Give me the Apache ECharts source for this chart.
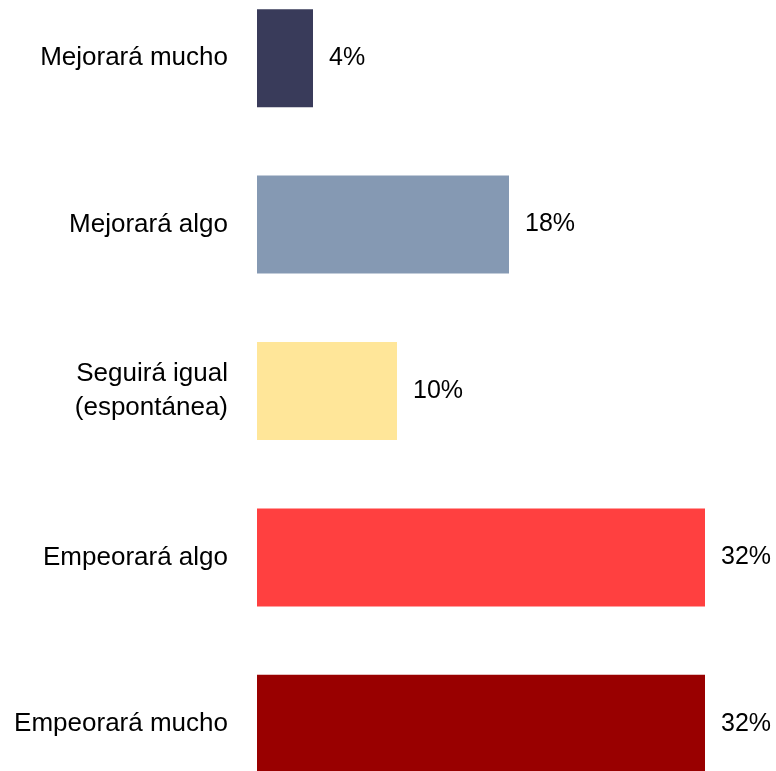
<!DOCTYPE html>
<html>
<head>
<meta charset="utf-8">
<script src="https://cdn.jsdelivr.net/npm/echarts@6/dist/echarts.min.js"></script>
<style>
  html, body { margin: 0; padding: 0; background: #fff; }
  body { width: 776px; height: 771px; overflow: hidden; }
  /* plot is taller than the window: the last bar is cut at the bottom */
  #chart { width: 776px; height: 832px; margin-top: -25px; }
</style>
</head>
<body>
<div id="chart"></div>
<script>
// Data
const categories = ['Mejorará mucho', 'Mejorará algo', 'Seguirá igual\n(espontánea)', 'Empeorará algo', 'Empeorará mucho'];
const values = [4, 18, 10, 32, 32];
const barColors = ['#393b5a', '#8599b3', '#ffe699', '#ff4040', '#990000'];

const fontFamily = '"Liberation Sans", Arial, sans-serif';

const chart = echarts.init(document.getElementById('chart'));

chart.setOption({
    animation: false,
    grid: {
        left: 257,
        right: 15,
        top: 0,
        bottom: 0,
        containLabel: false
    },
    xAxis: {
        type: 'value',
        min: 0,
        max: 36,
        show: false
    },
    yAxis: {
        type: 'category',
        data: categories,
        inverse: true,
        axisLine: { show: false },
        axisTick: { show: false },
        axisLabel: {
            margin: 29,
            color: '#000',
            fontSize: 26,
            fontFamily: fontFamily,
            lineHeight: 34,
            align: 'right'
        }
    },
    series: [{
        type: 'bar',
        barWidth: 98,
        data: values.map((v, i) => ({
            value: v,
            itemStyle: { color: barColors[i] }
        })),
        label: {
            show: true,
            position: 'right',
            distance: 16,
            formatter: '{c}%',
            color: '#000',
            fontSize: 25,
            fontFamily: fontFamily
        }
    }]
});
</script>
</body>
</html>
